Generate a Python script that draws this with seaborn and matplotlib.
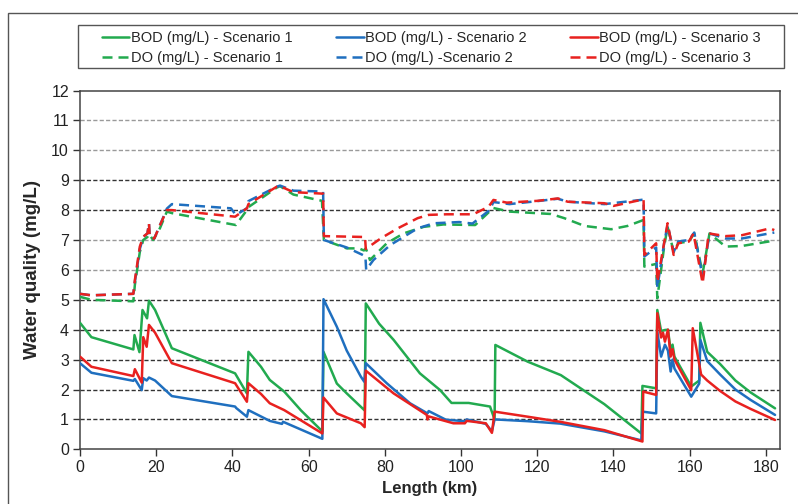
import numpy as np
import pandas as pd
import matplotlib
matplotlib.use("Agg")
import matplotlib.pyplot as plt
from matplotlib.lines import Line2D
from matplotlib.patches import Rectangle
import seaborn as sns

# ---------------- data ----------------
bod1_x = [0, 3, 14, 14.3, 15.6, 16.4, 17.6, 18.1, 19.7, 24.1, 40.7, 43.8, 44.2, 47.5, 49.8, 53.6,
          58, 63.6, 63.9, 67.4, 70, 74.7, 75.0, 78.5, 82.3, 89.2, 94.5, 97.5, 102, 107.6, 108.8,
          109.0, 117.5, 126.2, 137.6, 147.3, 147.6, 151.2, 151.5, 152.5, 153.5, 154.3, 155, 155.5,
          156, 160.4, 162.5, 162.8, 164.6, 168, 172, 176, 182.4]
bod1_y = [4.23, 3.75, 3.34, 3.82, 3.25, 4.66, 4.38, 4.97, 4.66, 3.38, 2.54, 1.87, 3.26, 2.76, 2.32, 1.93,
          1.3, 0.6, 3.26, 2.2, 1.87, 1.3, 4.88, 4.2, 3.66, 2.54, 1.98, 1.55, 1.55, 1.43, 1.0,
          3.49, 2.93, 2.48, 1.51, 0.53, 2.12, 2.04, 4.66, 3.95, 3.99, 4.0, 3.3, 3.5,
          3.1, 2.1, 2.3, 4.23, 3.26, 2.85, 2.3, 1.9, 1.37]

bod2_x = [0, 3, 14, 14.4, 16.2, 16.6, 17.5, 18.1, 19.7, 24.1, 40.7, 41, 43.8, 44.2, 49.8, 53, 53.3,
          63.6, 63.9, 67.4, 70, 73.7, 74.6, 75, 80.5, 86.6, 91.2, 91.5, 96, 101, 101.5, 106.5,
          108.1, 108.8, 117.5, 126, 137.6, 147.3, 147.6, 151.2, 151.5, 152.5, 153.5, 154.3, 155,
          155.5, 156, 160.4, 162.5, 162.8, 164.6, 168, 172, 176, 182.4]
bod2_y = [2.88, 2.56, 2.29, 2.35, 1.98, 2.38, 2.3, 2.4, 2.3, 1.78, 1.43, 1.38, 1.09, 1.31, 0.95, 0.85, 0.92,
          0.35, 5.02, 4.1, 3.3, 2.43, 2.26, 2.88, 2.21, 1.54, 1.2, 1.28, 0.99, 0.94, 1.0, 0.85,
          0.6, 1.0, 0.94, 0.86, 0.6, 0.3, 1.26, 1.2, 3.93, 3.1, 3.5, 3.3, 2.6,
          3.0, 2.7, 1.76, 2.2, 3.66, 2.95, 2.5, 2.0, 1.65, 1.15]

bod3_x = [0, 3, 14, 14.4, 16.2, 16.6, 17.5, 18.1, 19.7, 24.1, 40.7, 43.8, 44.2, 47.5, 49.8, 53.6,
          63.6, 63.9, 67.4, 73.7, 74.7, 75, 82.3, 91, 91.2, 91.5, 98, 101, 101.5, 106.5, 108.1,
          108.8, 117.5, 126, 137.6, 147.6, 147.8, 151.2, 151.5, 152.5, 153, 153.5, 154.3, 155,
          155.5, 156, 160.4, 160.8, 163, 164.6, 168, 172, 176, 182.4]
bod3_y = [3.10, 2.76, 2.45, 2.68, 2.23, 3.75, 3.43, 4.16, 3.9, 2.88, 2.21, 1.59, 2.21, 1.85, 1.54, 1.31,
          0.53, 1.73, 1.2, 0.87, 0.74, 2.63, 1.87, 1.15, 1.0, 1.1, 0.87, 0.87, 0.95, 0.87, 0.55,
          1.26, 1.09, 0.92, 0.64, 0.26, 1.93, 1.82, 4.55, 3.74, 3.9, 3.6, 4.0, 3.1,
          3.35, 3.0, 1.98, 4.05, 2.5, 2.3, 1.95, 1.6, 1.35, 0.98]

do1_x = [0, 3, 14, 14.4, 15.7, 16.6, 17.7, 18.1, 19.2, 21, 22.8, 24.1, 40.9, 43.8, 44.2, 51.6, 52.5,
         56, 63.5, 64, 70, 73.2, 74.5, 75, 76.1, 80.5, 84.9, 90.2, 95.4, 103.7, 107.7, 108.5,
         112.7, 123.6, 127.1, 132.4, 139.4, 143.7, 147.9, 148.1, 151.2, 151.5, 153.3, 154.2, 155.8,
         157, 159.8, 161.2, 163.4, 165.2, 169.4, 173.7, 182.2]
do1_y = [5.10, 5.0, 4.95, 5.5, 6.6, 7.0, 7.1, 7.2, 7.0, 7.4, 7.95, 7.9, 7.5, 8.0, 8.1, 8.75, 8.8,
         8.52, 8.31, 7.0, 6.72, 6.72, 6.65, 6.72, 6.33, 6.89, 7.22, 7.44, 7.52, 7.5, 7.98, 8.07,
         7.95, 7.87, 7.73, 7.47, 7.36, 7.47, 7.67, 6.11, 6.2, 5.05, 6.78, 7.44, 6.6,
         6.9, 6.95, 7.22, 5.89, 7.22, 6.78, 6.8, 6.98]

do2_x = [0, 3, 14, 14.4, 15.7, 16.6, 17.7, 18.1, 18.3, 19.5, 21, 22.8, 24.1, 39.6, 40.9, 43.8, 44.2,
         51.6, 52.5, 56, 63.8, 64, 70, 74.2, 74.9, 75.1, 77, 81.4, 88.6, 92.9, 99.5, 103, 107.5,
         108.5, 112.7, 120, 125.4, 128, 137.6, 147.9, 148.1, 151.2, 151.5, 153.3, 154.2, 155.8,
         157, 159.8, 161.2, 163.4, 165.2, 169.4, 173.7, 182.2]
do2_y = [5.2, 5.15, 5.2, 5.6, 6.7, 7.1, 7.22, 7.56, 7.1, 7.05, 7.5, 8.05, 8.2, 8.06, 7.84, 8.06, 8.3,
         8.78, 8.82, 8.65, 8.62, 7.0, 6.75, 6.5, 6.45, 6.0, 6.33, 6.83, 7.39, 7.56, 7.6, 7.55, 8.0,
         8.27, 8.2, 8.3, 8.38, 8.28, 8.2, 8.35, 6.45, 6.75, 5.4, 6.9, 7.5, 6.6,
         6.95, 7.0, 7.25, 5.75, 7.22, 7.05, 7.05, 7.25]

do3_x = [0, 3, 14, 14.4, 15.7, 16.6, 17.7, 18.1, 18.3, 19.5, 21, 22.8, 24.1, 40.7, 43.8, 44.2, 51.6,
         52.5, 56, 63.8, 64, 74.8, 75, 79, 83.4, 88.6, 91.5, 96.2, 103.2, 107.2, 108.5, 112, 120.1,
         125.4, 128, 137.6, 140, 147.9, 148.1, 151.2, 151.5, 154.2, 155.8, 157, 159.8, 161,
         163.4, 165, 169.4, 173.7, 181.1, 182.2]
do3_y = [5.2, 5.15, 5.2, 5.66, 6.78, 7.11, 7.22, 7.56, 7.1, 7.05, 7.5, 8.0, 8.0, 7.78, 8.06, 8.2, 8.78,
         8.8, 8.6, 8.55, 7.13, 7.1, 6.7, 7.06, 7.39, 7.73, 7.84, 7.86, 7.86, 8.11, 8.34, 8.25, 8.31,
         8.39, 8.28, 8.23, 8.14, 8.36, 6.5, 6.89, 5.6, 7.56, 6.5, 6.89, 6.95, 7.22,
         5.55, 7.22, 7.13, 7.16, 7.39, 7.33]

labels = ["BOD (mg/L) - Scenario 1", "BOD (mg/L) - Scenario 2", "BOD (mg/L) - Scenario 3",
          "DO (mg/L) - Scenario 1", "DO (mg/L) -Scenario 2", "DO (mg/L) - Scenario 3"]
x_ticks = [0, 20, 40, 60, 80, 100, 120, 140, 160, 180]
y_ticks = list(range(0, 13))

# ---------------- build table ----------------
series = [(bod1_x, bod1_y), (bod2_x, bod2_y), (bod3_x, bod3_y),
          (do1_x, do1_y), (do2_x, do2_y), (do3_x, do3_y)]
frames = []
for lab, (xs, ys) in zip(labels, series):
    frames.append(pd.DataFrame({"Length": xs, "Value": ys, "Series": lab}))
df = pd.concat(frames, ignore_index=True)

green, blue, red = "#22aa4f", "#1f6fbf", "#e8211f"
palette = dict(zip(labels, [green, blue, red, green, blue, red]))
dash = (4, 2.4)
dashes = dict(zip(labels, ["", "", "", dash, dash, dash]))

# ---------------- figure ----------------
sns.set_theme(style="white")
plt.rcParams["font.family"] = ["Liberation Sans", "DejaVu Sans"]

W, H = 798, 504
fig = plt.figure(figsize=(W / 100, H / 100), dpi=100)
ax = fig.add_axes([80 / W, 1 - 449.3 / H, 700 / W, (449.3 - 90.5) / H])

# grid lines
for v in range(1, 12):
    col = "#9a9a9a" if v in (6, 7, 10, 11) else "#333333"
    ax.axhline(v, color=col, lw=1.0, linestyle=(0, (3, 1.6)), zorder=1)

sns.lineplot(data=df, x="Length", y="Value", hue="Series", style="Series",
             palette=palette, dashes=dashes, sort=False, estimator=None,
             linewidth=1.8, legend=False, ax=ax, zorder=3)

ax.set_xlim(0, 183.7)
ax.set_ylim(0, 12)
ax.set_xticks(x_ticks)
ax.set_yticks(y_ticks)
ax.tick_params(axis="both", direction="out", length=5, width=1, color="#333333",
               labelsize=11.5, pad=3, labelcolor="#222222")
ax.tick_params(axis="x", bottom=True)
ax.tick_params(axis="y", left=True)
for s in ax.spines.values():
    s.set_color("#444444")
    s.set_linewidth(1.1)
ax.set_xlabel("Length (km)", fontsize=12, fontweight="bold", labelpad=4)
ax.set_ylabel("Water quality (mg/L)", fontsize=13.5, fontweight="bold", labelpad=7)

# legend (content) + separate frame box
order = [0, 3, 1, 4, 2, 5]
handles = []
for i in order:
    ls = "-" if i < 3 else (0, dash)
    handles.append(Line2D([0], [0], color=palette[labels[i]], lw=1.8, linestyle=ls))
leg = fig.legend(handles, [labels[i] for i in order], ncol=3,
                 loc="center left",
                 bbox_to_anchor=(101.7 / W, 1 - 47.7 / H),
                 fontsize=10.5, frameon=False, handlelength=1.9,
                 handletextpad=0.08, borderaxespad=0, borderpad=0,
                 labelspacing=0.4, columnspacing=3.0)
fig.patches.append(Rectangle((78.3 / W, 1 - 68.3 / H), (784 - 78.3) / W, 43.3 / H,
                             transform=fig.transFigure, fill=False,
                             edgecolor="#555555", lw=1.0))

# outer frame of the figure
fig.patches.append(Rectangle((8 / W, -0.2), 2, 1.2 - 13 / H, transform=fig.transFigure,
                             fill=False, edgecolor="#555555", lw=1.0))

fig.savefig("out.png", dpi=100)
